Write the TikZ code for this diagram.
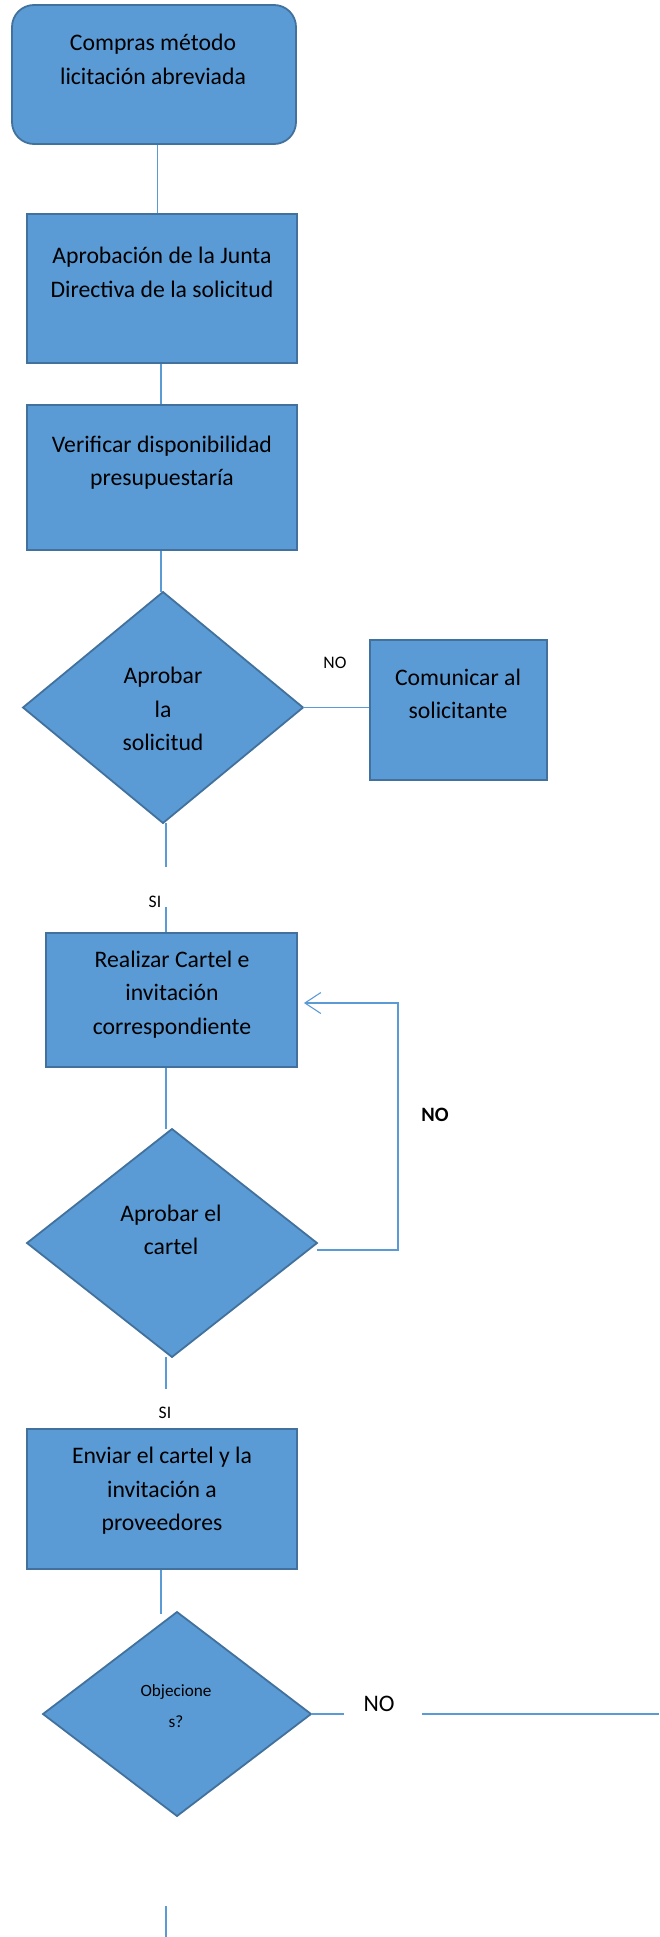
\documentclass[tikz,border=0pt]{standalone}
\usepackage{fontspec}
\setmainfont{Carlito}
\usetikzlibrary{arrows.meta,shapes.geometric}
\definecolor{boxfill}{HTML}{5B9BD5}
\definecolor{boxline}{HTML}{41719C}
\definecolor{conn}{HTML}{5B9BD5}
\tikzset{
  procbox/.style={rectangle,draw=boxline,fill=boxfill,line width=1.8pt,inner sep=0pt},
  startbox/.style={procbox,rounded corners=22pt},
  decbox/.style={diamond,draw=boxline,fill=boxfill,line width=1.8pt,inner sep=0pt,outer sep=0pt},
  boxtext/.style={align=center,inner sep=0pt,font=\fontsize{23.7}{33.5}\selectfont},
  smalltext/.style={align=center,inner sep=0pt,font=\fontsize{17.2}{31}\selectfont},
  lbl/.style={inner sep=0pt,font=\fontsize{17.6}{20}\selectfont},
  connector/.style={draw=conn,line width=1.1pt},
}
\begin{document}
\begin{tikzpicture}[x=1pt,y=-1pt]
\useasboundingbox (0,0) rectangle (659,1937);
% shapes
\node[startbox,minimum width=284pt,minimum height=139pt] (b1) at (154,74.5) {};
\node[procbox,minimum width=270pt,minimum height=149pt] (b2) at (162,288.5) {};
\node[procbox,minimum width=270pt,minimum height=145pt] (b3) at (162,477.5) {};
\node[decbox,minimum width=280pt,minimum height=231pt] (d1) at (163,707.5) {};
\node[procbox,minimum width=177pt,minimum height=140pt] (com) at (458.5,710) {};
\node[procbox,minimum width=251pt,minimum height=134pt] (b4) at (171.5,1000) {};
\node[decbox,minimum width=290pt,minimum height=228pt] (d2) at (172,1243) {};
\node[procbox,minimum width=270pt,minimum height=140pt] (b5) at (162,1499) {};
\node[decbox,minimum width=268pt,minimum height=204pt] (d3) at (177,1714) {};
% texts
\node[boxtext] (t1) at (153,61) {\strut Compras método\\\strut licitación abreviada};
\node[boxtext] (t2) at (162,274) {\strut Aprobación de la Junta\\\strut Directiva de la solicitud};
\node[boxtext] (t3) at (162,462.5) {\strut Verificar disponibilidad\\\strut presupuestaría};
\node[boxtext] (td1) at (163,710.5) {\strut Aprobar\\\strut la\\\strut solicitud};
\node[boxtext] (tcom) at (458,695.5) {\strut Comunicar al\\\strut solicitante};
\node[boxtext] (t4) at (172,994) {\strut Realizar Cartel e\\\strut invitación\\\strut correspondiente};
\node[boxtext] (td2) at (171,1231.5) {\strut Aprobar el\\\strut cartel};
\node[boxtext] (t5) at (162,1490.5) {\strut Enviar el cartel y la\\\strut invitación a\\\strut proveedores};
\node[smalltext] (td3) at (176,1706) {\strut Objecione\\\strut s?};
% labels
\node[lbl] (no1) at (335,663) {NO};
\node[lbl] (si1) at (155,902) {SI};
\node[inner sep=0pt,font=\fontsize{20.4}{24}\selectfont\bfseries] (no2) at (435,1115) {NO};
\node[lbl] (si2) at (165,1413) {SI};
\node[inner sep=0pt,font=\fontsize{23.7}{28}\selectfont] (no3) at (379,1704) {NO};
% free ends
\coordinate (si1top) at (166,867);
\coordinate (si1bot) at (166,907);
\coordinate (si2top) at (166,1389);
\coordinate (no3l) at (344,1714);
\coordinate (no3r) at (422,1714);
\coordinate (edge) at (659,1714);
\coordinate (endtop) at (166,1906);
\coordinate (endbot) at (166,1937);
% connectors
\draw[connector] ([xshift=3.6pt]b1.south) -- ([xshift=-4.4pt]b2.north);
\draw[connector] ([xshift=-1pt]b2.south) -- ([xshift=-1pt]b3.north);
\draw[connector] ([xshift=-1pt]b3.south) -- ([xshift=-2pt]d1.north);
\draw[connector] (d1.east) -- (d1.east -| com.west);
\draw[connector] ([xshift=3pt]d1.south) -- (si1top);
\draw[connector] (si1bot) -- ([xshift=-5.5pt]b4.north);
\draw[connector] ([xshift=-5.5pt]b4.south) -- ([xshift=-6pt]d2.north);
\draw[connector,-{Straight Barb[length=16pt,width=21pt,line width=1.1pt]}]
  ([yshift=-7pt]d2.east) -- ++(81,0) |- ([xshift=6pt,yshift=-3pt]b4.east);
\draw[connector] ([xshift=-6pt]d2.south) -- (si2top);
\draw[connector] ([xshift=-1pt]b5.south) -- ([xshift=-16pt,yshift=-2pt]d3.north);
\draw[connector] (d3.east) -- (no3l);
\draw[connector] (no3r) -- (edge);
\draw[connector] (endtop) -- (endbot);
\end{tikzpicture}
\end{document}
